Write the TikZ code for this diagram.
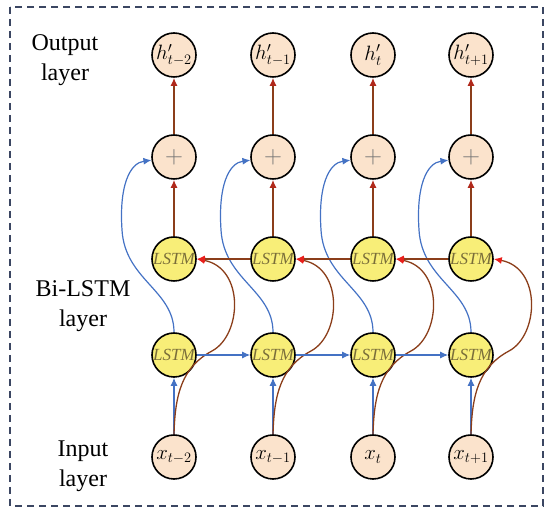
\documentclass[tikz,border=0pt]{standalone}
\usepackage{fontspec}
\setmainfont{Liberation Serif}
\usetikzlibrary{arrows.meta,calc}
\definecolor{peach}{HTML}{FBE3CC}
\definecolor{lyellow}{HTML}{F8EE78}
\definecolor{lstmtxt}{HTML}{7A6E3A}
\definecolor{brn}{HTML}{8B3E1A}
\definecolor{redtip}{HTML}{E8201C}
\definecolor{uptip}{HTML}{B0281A}
\definecolor{blu}{HTML}{4472C4}
\definecolor{framec}{HTML}{3B4662}
\tikzset{
  circ/.style={circle, draw=black, line width=1.6pt, minimum size=44pt, inner sep=0pt},
  pnode/.style={circ, fill=peach, font=\fontsize{21}{21}\selectfont},
  lnode/.style={circ, fill=lyellow, font=\fontsize{17}{17}\selectfont\itshape, text=lstmtxt},
  plusnode/.style={circ, fill=peach, text=black!55, font=\fontsize{28}{28}\selectfont},
  lbl/.style={align=center, font=\fontsize{24}{30}\selectfont},
  barrow/.style={blu, line width=1.2pt, -{Latex[length=8pt,width=7pt]}},
  rarrow/.style={brn, line width=1.3pt, -{Latex[length=8pt,width=7pt,color=redtip]}},
  uarrow/.style={brn, line width=1.3pt, -{Latex[length=8pt,width=7pt,color=uptip]}},
}
\begin{document}
\begin{tikzpicture}[x=1pt,y=-1pt]
\useasboundingbox (0,0) rectangle (550,518);
\draw[framec, line width=1.4pt, dash pattern=on 7pt off 5pt] (10,7) rectangle (543,506);
\node[lbl] (lout) at (65,60) {Output\\layer};
\node[lbl] (lbi) at (83,306) {Bi-LSTM\\layer};
\node[lbl] (lin) at (83,466) {Input\\layer};
\foreach \i/\x/\s in {1/174/{t-2},2/273/{t-1},3/373/{t},4/471/{t+1}}{
  \node[pnode] (out\i) at (\x,55) {$h'_{\s}$};
  \node[plusnode] (plus\i) at (\x,157) {$+$};
  \node[lnode] (top\i) at (\x,259) {LSTM};
  \node[lnode] (low\i) at (\x,355) {LSTM};
  \node[pnode] (in\i) at (\x,457) {$x_{\s}$};
}
\foreach \i in {1,2,3,4}{
  \draw[barrow] (in\i) -- (low\i);
  \draw[uarrow] (top\i) -- (plus\i);
  \draw[uarrow] (plus\i) -- (out\i);
  \draw[barrow] (low\i.north) .. controls ($(low\i)+(0,-65)$) and ($(low\i)+(-49,-75)$) .. ($(low\i)+(-52,-125)$)
     .. controls ($(low\i)+(-55,-170)$) and ($(low\i)+(-44,-192)$) .. (plus\i.188);
  \draw[rarrow] (in\i.north) .. controls ($(in\i.north)+(1,-40)$) and ($(low\i)+(8,12)$) .. ($(low\i)+(38,-4)$)
     .. controls ($(low\i)+(68,-20)$) and ($(top\i.east)+(48,9)$) .. (top\i.east);
}
\foreach \i/\j in {1/2,2/3,3/4}{
  \draw[barrow] (low\i) -- (low\j);
  \draw[rarrow] (top\j) -- (top\i);
}
\end{tikzpicture}
\end{document}
